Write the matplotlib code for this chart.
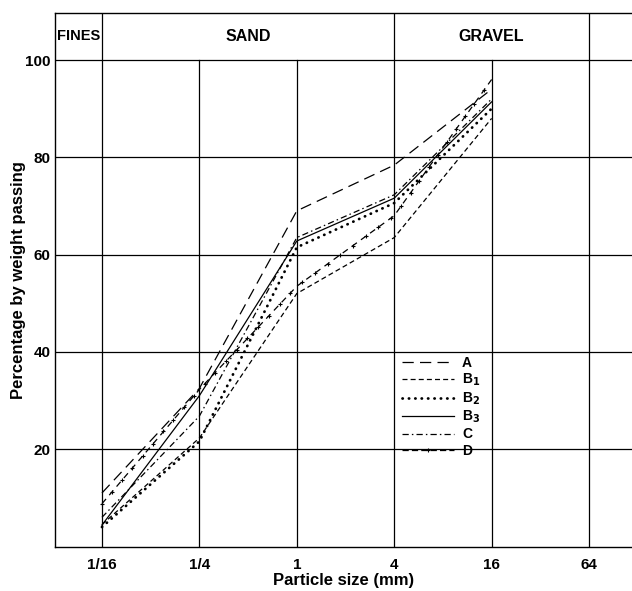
import numpy as np
import matplotlib
matplotlib.use("Agg")
import matplotlib.pyplot as plt

plt.rcParams['font.family'] = ['Liberation Sans', 'DejaVu Sans']
plt.rcParams['font.weight'] = 'bold'

# particle sizes (mm) where the curves break
sizes = [1/16, 1/4, 1, 4, 16]

# percentage passing
pct_A = [11.0, 32.5, 69.0, 78.4, 94.0]
pct_B1 = [4.5, 22.3, 52.0, 63.5, 88.0]
pct_B2 = [4.0, 21.6, 61.5, 70.6, 90.0]
pct_B3 = [4.4, 31.0, 62.8, 71.6, 91.4]
pct_C = [6.0, 26.8, 63.5, 72.3, 92.0]
pct_D = [8.8, 32.3, 53.5, 68.0, 96.0]

xticks = [1/16, 1/4, 1, 4, 16, 64]
xtick_labels = ['1/16', '1/4', '1', '4', '16', '64']
yticks = [20, 40, 60, 80, 100]

zones = ['FINES', 'SAND', 'GRAVEL']
zone_edges = [None, 1/16, 4, 64]

W, H = 632, 591
fig = plt.figure(figsize=(W / 100, H / 100), dpi=100)
ax = fig.add_axes([55 / W, (H - 546.5) / H, (W - 55) / W, (546.5 - 12.7) / H])
ax.set_xscale('log', base=4)
x_lo = (1/16) * 4 ** (-47 / 97.5)
x_hi = 64 * 4 ** (43 / 97.5)
ax.set_xlim(x_lo, x_hi)
y_top = 100 + (60 - 12.7) / 4.86
ax.set_ylim(0, y_top)

lw = 0.9
# grid: verticals that bound zones go up through header
for x in xticks:
    top = y_top if x in zone_edges else 100
    ax.plot([x, x], [0, top], color='black', lw=0.9, zorder=1)
for y in yticks:
    ax.axhline(y, color='black', lw=0.9, zorder=1)

ax.plot(sizes, pct_A, color='black', lw=lw, linestyle=(0, (9, 5)), label='A')
ax.plot(sizes, pct_B1, color='black', lw=lw, linestyle=(0, (4, 2.5)), label='B$_1$')
ax.plot(sizes, pct_B2, color='black', lw=2.0, linestyle=(0, (0.1, 2.2)),
        dash_capstyle='round', label='B$_2$')
ax.plot(sizes, pct_B3, color='black', lw=lw, linestyle='-', label='B$_3$')
ax.plot(sizes, pct_C, color='black', lw=lw, linestyle=(0, (5, 2.5, 1.2, 2.5)), label='C')

# D: dashes with small crosses between them
lx = np.log(sizes)
t = np.linspace(lx[0], lx[-1], 400)
dx, dy = np.exp(t), np.interp(t, lx, pct_D)
ax.plot(dx, dy, color='black', lw=lw, linestyle=(0, (5, 4)))
ax.plot(dx, dy, color='black', lw=0, marker='+', ms=3.5, mew=0.8, markevery=0.02)
ax.plot([], [], color='black', lw=lw, linestyle=(0, (5, 2.5)), marker='+', ms=3.5,
        mew=0.8, markevery=[1], label='D')

# header labels
centres = [np.sqrt(x_lo * (1/16)), np.sqrt((1/16) * 4), np.sqrt(4 * 64)]
for name, xc in zip(zones, centres):
    fs = 10.5 if name == 'FINES' else 11.5
    ax.text(xc, (100 + y_top) / 2, name, ha='center', va='center', fontsize=fs,
            fontweight='bold')

ax.set_xticks(xticks)
ax.set_xticklabels(xtick_labels)
ax.xaxis.set_minor_locator(matplotlib.ticker.NullLocator())
ax.set_yticks(yticks)
ax.tick_params(length=0, labelsize=11)
ax.tick_params(axis='x', pad=8)
ax.tick_params(axis='y', pad=3)
for lab in ax.get_xticklabels() + ax.get_yticklabels():
    lab.set_fontweight('bold')

ax.set_xlabel('Particle size (mm)', fontsize=12, fontweight='bold', labelpad=1)
ax.set_ylabel('Percentage by weight passing', fontsize=12, fontweight='bold',
              va='center')
ax.yaxis.set_label_coords(-0.064, 0.5)

for s in ['left', 'top', 'bottom']:
    ax.spines[s].set_linewidth(1.0)
ax.spines['right'].set_visible(False)

leg = ax.legend(loc='upper left', bbox_to_anchor=(0.59, 0.37), frameon=False,
                fontsize=10, handlelength=3.7, handletextpad=0.6, labelspacing=0.15,
                borderpad=0)

fig.savefig('out.png', dpi=100)
